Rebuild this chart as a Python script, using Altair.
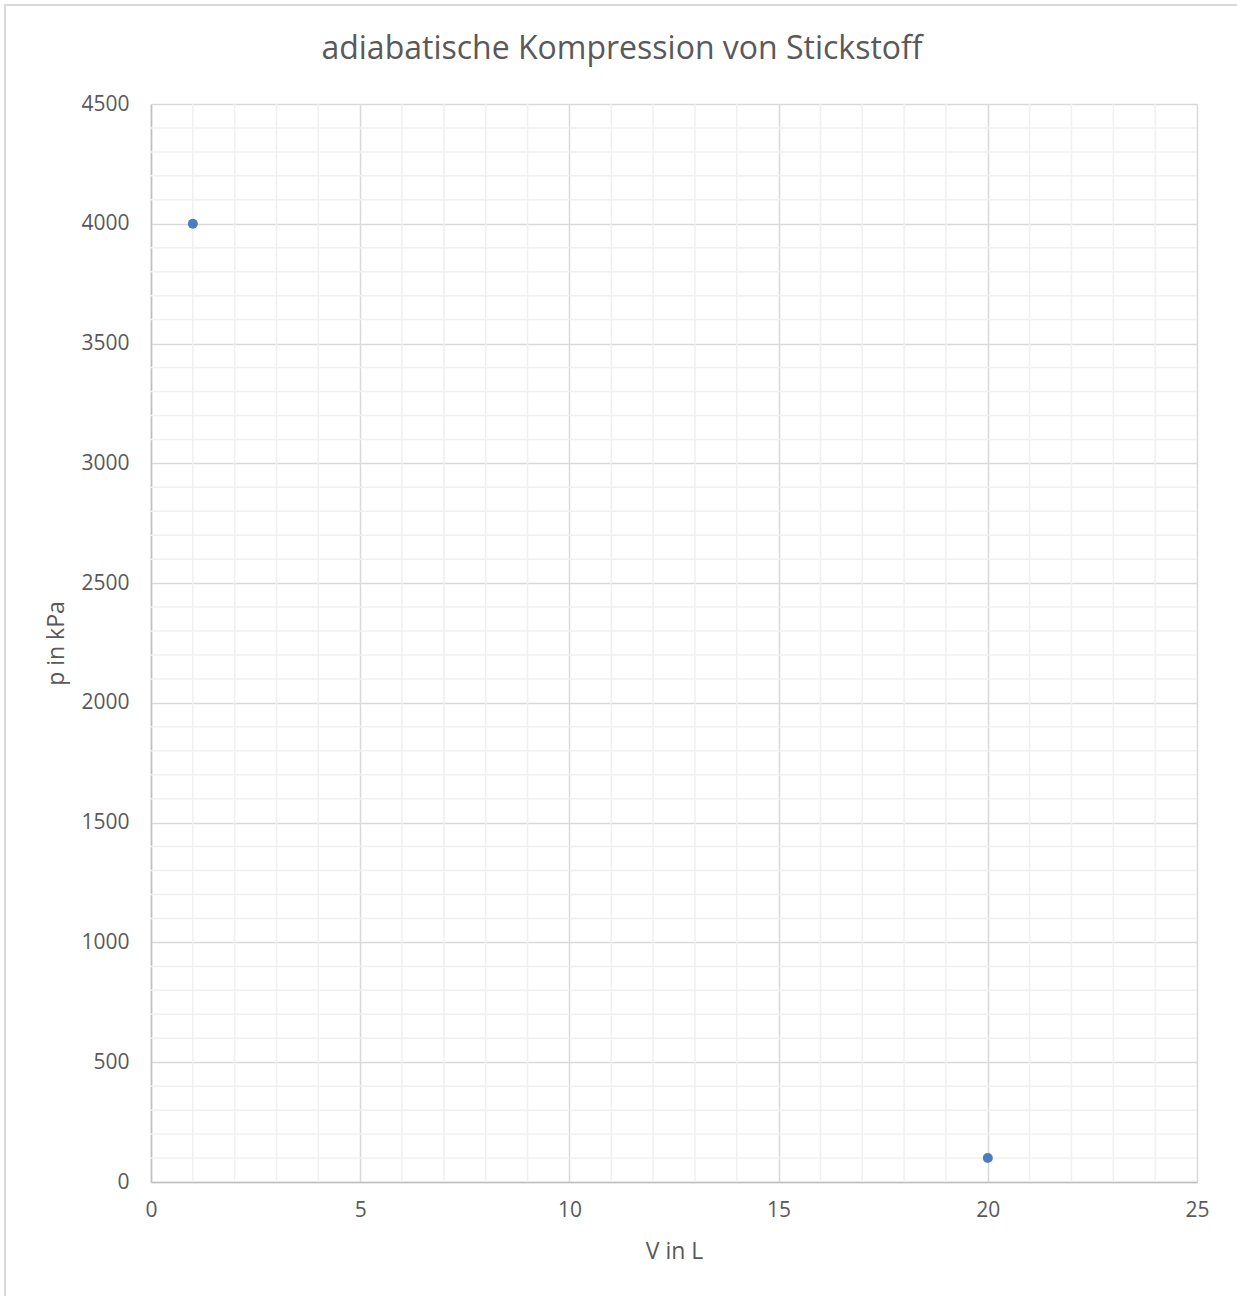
import altair as alt
import pandas as pd

# data points
V = [1, 20]
p = [4000, 100]

# axis tick values
x_major = [0, 5, 10, 15, 20, 25]
y_major = [0, 500, 1000, 1500, 2000, 2500, 3000, 3500, 4000, 4500]
x_minor = [v for v in range(0, 26) if v % 5 != 0]
y_minor = [v for v in range(0, 4501, 100) if v % 500 != 0]

TITLE = "adiabatische Kompression von Stickstoff"
X_TITLE = "V in L"
Y_TITLE = "p in kPa"

FONT = "Open Sans"
TXT = "#595959"

pts = pd.DataFrame({"V": V, "p": p})
xm = pd.DataFrame({"V": x_minor})
ym = pd.DataFrame({"p": y_minor})

xscale = alt.Scale(domain=[0, 25], nice=False)
yscale = alt.Scale(domain=[0, 4500], nice=False)
xaxis = alt.Axis(values=x_major, format="d", labelFlush=False,
                 labelPadding=17, titlePadding=20)
yaxis = alt.Axis(values=y_major, format="d", labelFlush=False,
                 labelPadding=22, titlePadding=12)

minor_x = alt.Chart(xm).mark_rule(color="#f0f0f0", strokeWidth=1.5).encode(
    x=alt.X("V:Q", scale=xscale, axis=xaxis, title=X_TITLE)
)
minor_y = alt.Chart(ym).mark_rule(color="#f0f0f0", strokeWidth=1.5).encode(
    y=alt.Y("p:Q", scale=yscale, axis=yaxis, title=Y_TITLE)
)

points = alt.Chart(pts).mark_circle(size=100, color="#4a7ebb", opacity=1).encode(
    x=alt.X("V:Q", scale=xscale, axis=xaxis, title=X_TITLE),
    y=alt.Y("p:Q", scale=yscale, axis=yaxis, title=Y_TITLE),
)

title = alt.Chart(pd.DataFrame({"t": [TITLE]})).mark_text(
    font=FONT, fontSize=32, color=TXT, align="center", baseline="alphabetic"
).encode(
    text="t:N", x=alt.value(471), y=alt.value(-45)
)

border = alt.Chart(pd.DataFrame({"a": [0]})).mark_rect(
    fill=None, stroke="#d9d9d9", strokeWidth=2, clip=False
).encode(
    x=alt.value(-146), x2=alt.value(1200),
    y=alt.value(-99), y2=alt.value(1300),
)

chart = alt.layer(border, minor_x, minor_y, points, title).properties(
    width=1046,
    height=1078,
    autosize=alt.AutoSizeParams(type="none"),
    padding={"left": 151, "top": 104, "right": 40, "bottom": 114},
).configure_view(stroke=None).configure_axis(
    labelFont=FONT, labelFontSize=21, labelColor=TXT,
    titleFont=FONT, titleFontSize=23, titleColor=TXT, titleFontWeight="normal",
    ticks=False, domainColor="#bfbfbf", domainWidth=1.5,
    gridColor="#d9d9d9", gridWidth=1.5,
)

chart.save("out.html", embed_options={"renderer": "svg", "actions": False})
